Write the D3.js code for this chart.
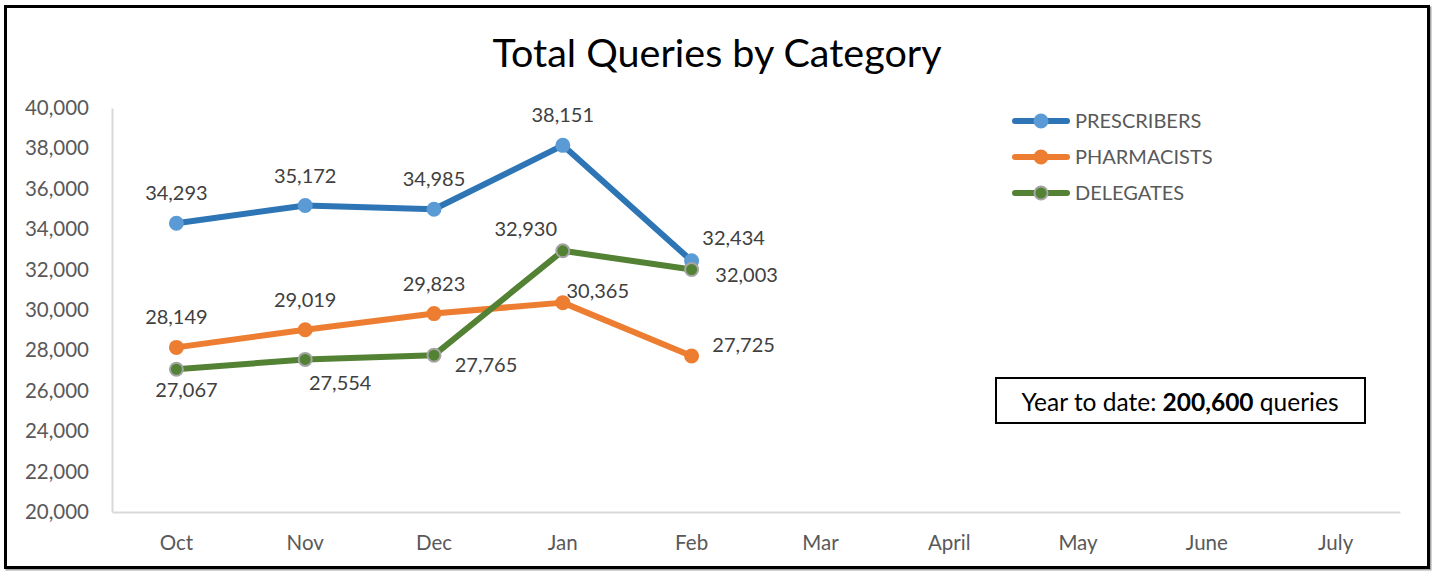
<!DOCTYPE html>
<html>
<head>
<meta charset="utf-8">
<script src="https://cdn.jsdelivr.net/npm/d3@7/dist/d3.min.js"></script>
<style>
  html, body { margin: 0; padding: 0; background: #fff; }
  svg { display: block; font-family: Lato, "Open Sans", sans-serif; }
</style>
</head>
<body>
<svg id="chart" width="1434" height="571"></svg>
<script>
// ---- Data ----
const months = ["Oct", "Nov", "Dec", "Jan", "Feb", "Mar", "April", "May", "June", "July"];
const prescribers = [34293, 35172, 34985, 38151, 32434];
const pharmacists = [28149, 29019, 29823, 30365, 27725];
const delegates = [27067, 27554, 27765, 32930, 32003];
const seriesNames = ["PRESCRIBERS", "PHARMACISTS", "DELEGATES"];
const yTicks = [20000, 22000, 24000, 26000, 28000, 30000, 32000, 34000, 36000, 38000, 40000];
const titleText = "Total Queries by Category";
const ytdValue = "200,600";

// ---- Styles / label placement (layout, not data) ----
const styles = [
  { line: "#2E75B6", fill: "#5B9BD5", stroke: "#5B9BD5" },
  { line: "#ED7D31", fill: "#ED7D31", stroke: "#ED7D31" },
  { line: "#548235", fill: "#548235", stroke: "#A5A5A5" }
];
const labelOffsets = [
  [[0, -30], [0, -30], [0, -30], [0, -30], [42, -23]],
  [[0, -30], [0, -30], [0, -30], [35, -12], [52, -11]],
  [[10, 21], [35, 24], [52, 10], [-37, -22], [55, 5]]
];

const svg = d3.select("#chart");
const fmt = d3.format(",");

// outer frame
svg.append("rect").attr("x", 7).attr("y", 8).attr("width", 1423).attr("height", 561)
  .attr("fill", "none").attr("stroke", "#A6A6A6").attr("stroke-width", 3);
svg.append("rect").attr("x", 5.5).attr("y", 6.5).attr("width", 1423).attr("height", 561)
  .attr("fill", "#fff").attr("stroke", "#000").attr("stroke-width", 3);

const x = d3.scaleBand().domain(months).range([112, 1400]).padding(0);
const y = d3.scaleLinear().domain([20000, 40000]).range([512, 108]);

// title
svg.append("text").attr("x", 717).attr("y", 67).attr("text-anchor", "middle")
  .attr("font-size", 39.5).attr("fill", "#000").text(titleText);

// y axis
const yAxis = d3.axisLeft(y).tickValues(yTicks).tickFormat(fmt).tickSize(0).tickPadding(23);
const yg = svg.append("g").attr("transform", "translate(112,0)").call(yAxis);
yg.select(".domain").attr("stroke", "#D9D9D9").attr("stroke-width", 2);
yg.selectAll("text").attr("font-size", 20.5).attr("fill", "#595959").attr("font-family", "Lato");

// x axis
const xAxis = d3.axisBottom(x).tickSize(0).tickPadding(23);
const xg = svg.append("g").attr("transform", "translate(0,512)").call(xAxis);
xg.select(".domain").attr("stroke", "#D9D9D9").attr("stroke-width", 2);
xg.selectAll("text").attr("font-size", 20.5).attr("fill", "#595959").attr("font-family", "Lato");

const allSeries = [prescribers, pharmacists, delegates];
const line = d3.line().x((d, i) => x(months[i]) + x.bandwidth() / 2).y(d => y(d));

allSeries.forEach((vals, s) => {
  const g = svg.append("g");
  g.append("path").datum(vals).attr("d", line).attr("fill", "none")
    .attr("stroke", styles[s].line).attr("stroke-width", 6).attr("stroke-linejoin", "round").attr("stroke-linecap", "round");
  g.selectAll("circle").data(vals).join("circle")
    .attr("cx", (d, i) => x(months[i]) + x.bandwidth() / 2)
    .attr("cy", d => y(d))
    .attr("r", 6.5)
    .attr("fill", styles[s].fill)
    .attr("stroke", styles[s].stroke)
    .attr("stroke-width", 2);
});

allSeries.forEach((vals, s) => {
  svg.append("g").selectAll("text").data(vals).join("text")
    .attr("x", (d, i) => x(months[i]) + x.bandwidth() / 2 + labelOffsets[s][i][0])
    .attr("y", (d, i) => y(d) + labelOffsets[s][i][1])
    .attr("dy", "0.35em")
    .attr("text-anchor", "middle")
    .attr("font-size", 20).attr("fill", "#404040")
    .text(d => fmt(d));
});

// legend
const leg = svg.append("g").attr("transform", "translate(1013,121)");
seriesNames.forEach((n, s) => {
  const r = leg.append("g").attr("transform", `translate(0,${s * 36})`);
  r.append("line").attr("x1", 2).attr("x2", 54).attr("y1", 0).attr("y2", 0)
    .attr("stroke", styles[s].line).attr("stroke-width", 6).attr("stroke-linecap", "round");
  r.append("circle").attr("cx", 28).attr("cy", 0).attr("r", 6.5)
    .attr("fill", styles[s].fill).attr("stroke", styles[s].stroke).attr("stroke-width", 2);
  r.append("text").attr("x", 62).attr("y", 0).attr("dy", "0.35em")
    .attr("font-size", 20).attr("fill", "#595959").text(n);
});

// YTD box
const box = svg.append("g");
box.append("rect").attr("x", 996).attr("y", 378).attr("width", 369).attr("height", 45)
  .attr("fill", "#fff").attr("stroke", "#000").attr("stroke-width", 2);
const t = box.append("text").attr("x", 1180).attr("y", 402).attr("dy", "0.35em")
  .attr("text-anchor", "middle").attr("font-size", 24.5).attr("fill", "#000");
t.append("tspan").text("Year to date: ");
t.append("tspan").attr("font-weight", "bold").text(ytdValue);
t.append("tspan").text(" queries");
</script>
</body>
</html>
